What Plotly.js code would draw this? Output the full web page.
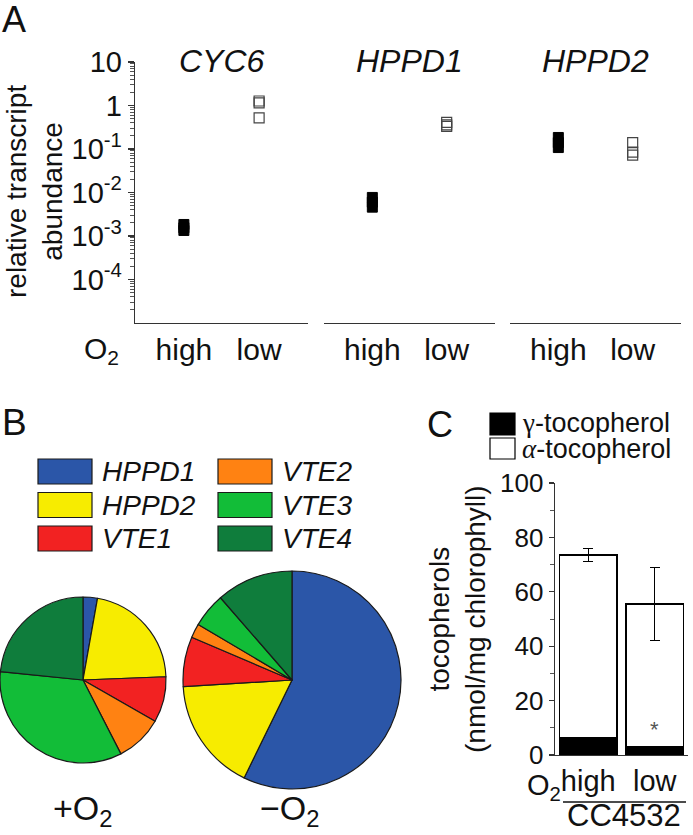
<!DOCTYPE html>
<html><head><meta charset="utf-8">
<script src="https://cdn.plot.ly/plotly-3.0.1.min.js"></script>
<style>html,body{margin:0;padding:0;background:#fff;} #chart{width:693px;height:835px;}</style>
</head><body><div id="chart"></div>
<script>
// ---------- Panel A: relative transcript abundance ----------
const genes = ['CYC6', 'HPPD1', 'HPPD2'];
const cyc6High = [1.34e-3, 1.55e-3, 1.84e-3];
const cyc6Low = [1.27, 1.15, 0.52];
const hppd1High = [4.6e-3, 6.0e-3, 7.7e-3];
const hppd1Low = [0.41, 0.36, 0.33];
const hppd2High = [0.108, 0.14, 0.184];
const hppd2Low = [0.14, 0.085, 0.072];
const logTickVals = [10, 1, 0.1, 0.01, 0.001, 0.0001];
const logTickText = ['10', '1', '10<sup>-1</sup>', '10<sup>-2</sup>', '10<sup>-3</sup>', '10<sup>-4</sup>'];

// ---------- Panel B: pie charts ----------
const pieGenes = ['HPPD1', 'HPPD2', 'VTE1', 'VTE2', 'VTE3', 'VTE4'];
const pieColors = ['#2b56a8', '#f7ec00', '#f22222', '#ff8212', '#12bd38', '#0f7d3c'];
const plusO2 = [2.8, 21.6, 8.9, 9.2, 34.2, 23.4];
const minusO2 = [57.3, 16.8, 7.4, 2.1, 5.1, 11.4];

// ---------- Panel C: tocopherols ----------
const barCats = ['high', 'low'];
const gammaToco = [6.2, 2.9];
const gammaErr = [0.5, 1.8];
const alphaToco = [67.3, 52.6];
const alphaErr = [2.3, 13.4];
const barTickVals = [0, 20, 40, 60, 80, 100];

const W = 693, H = 835;
const px = v => v / W;
const py = v => 1 - v / H;
const FONT = 'Liberation Sans, Arial, sans-serif';
const INK = '#1a1a1a';

const highSets = [cyc6High, hppd1High, hppd2High];
const lowSets = [cyc6Low, hppd1Low, hppd2Low];
const xNames = ['x', 'x2', 'x3'];

const traces = [];
genes.forEach((g, i) => {
  traces.push({
    type: 'scatter', mode: 'markers', xaxis: xNames[i], yaxis: 'y',
    x: highSets[i].map(() => 'high'), y: highSets[i],
    marker: {symbol: 'square', size: 10, color: '#000', line: {color: '#000', width: 1}},
    showlegend: false, hoverinfo: 'y'
  });
  traces.push({
    type: 'scatter', mode: 'markers', xaxis: xNames[i], yaxis: 'y',
    x: lowSets[i].map(() => 'low'), y: lowSets[i],
    marker: {symbol: 'square-open', size: 10, color: '#444', line: {color: '#444', width: 1.2}},
    showlegend: false, hoverinfo: 'y'
  });
});

// pies
traces.push({
  type: 'pie', values: plusO2, labels: pieGenes, sort: false, direction: 'clockwise', rotation: 0,
  marker: {colors: pieColors, line: {color: INK, width: 1.2}},
  textinfo: 'none', showlegend: false, hoverinfo: 'label+percent',
  domain: {x: [px(0), px(166)], y: [py(763), py(597)]}
});
traces.push({
  type: 'pie', values: minusO2, labels: pieGenes, sort: false, direction: 'clockwise', rotation: 0,
  marker: {colors: pieColors, line: {color: INK, width: 1.2}},
  textinfo: 'none', showlegend: false, hoverinfo: 'label+percent',
  domain: {x: [px(183), px(401)], y: [py(789), py(571)]}
});

// bars
traces.push({
  type: 'bar', x: barCats, y: gammaToco, xaxis: 'x4', yaxis: 'y4', name: 'γ-tocopherol',
  marker: {color: '#000', line: {color: '#000', width: 1.5}},
  error_y: {type: 'data', array: gammaErr, visible: true, color: '#000', thickness: 1, width: 5},
  showlegend: false
});
traces.push({
  type: 'bar', x: barCats, y: alphaToco, xaxis: 'x4', yaxis: 'y4', name: 'α-tocopherol',
  marker: {color: '#fff', line: {color: '#000', width: 1.5}},
  error_y: {type: 'data', array: alphaErr, visible: true, color: '#000', thickness: 1, width: 5},
  showlegend: false
});

// minor ticks for log axis
const minorLog = [];
for (let k = -5; k <= 0; k++) for (let m = 2; m <= 9; m++) minorLog.push(m * Math.pow(10, k));

const xCommon = {
  type: 'category', categoryorder: 'array', categoryarray: ['high', 'low'], range: [-0.65, 1.65],
  showline: true, linecolor: '#333', linewidth: 1.3, ticks: '', anchor: 'y',
  tickfont: {family: FONT, size: 30, color: '#111'}, showgrid: false, zeroline: false, fixedrange: true
};

const annotations = [];
const shapes = [];
const ann = (text, x, y, size, extra) => annotations.push(Object.assign({
  text, x: px(x), y: py(y), xref: 'paper', yref: 'paper', showarrow: false,
  xanchor: 'center', yanchor: 'middle', font: {family: FONT, size, color: '#111'}
}, extra || {}));

ann('A', 14, 20, 36);
ann('B', 14, 423, 37);
ann('C', 440, 424, 36);
ann('relative transcript<br>abundance', 35, 192, 28, {textangle: -90});
ann('O<sub>2</sub>', 82, 350, 30, {xanchor: 'left'});
genes.forEach((g, i) => {
  annotations.push({
    text: '<i>' + g + '</i>', xref: xNames[i] + ' domain', x: 0.5, yref: 'paper', y: py(61),
    showarrow: false, xanchor: 'center', yanchor: 'middle', font: {family: FONT, size: 32, color: '#111'}
  });
});

// Legend B (custom, large swatches)
pieGenes.forEach((g, i) => {
  const col = Math.floor(i / 3), row = i % 3;
  const bx = col === 0 ? 38 : 218;
  const cy = 471.5 + row * 33.5;
  shapes.push({type: 'rect', xref: 'paper', yref: 'paper', x0: px(bx), x1: px(bx + 54), y0: py(cy + 12.5), y1: py(cy - 12.5),
    fillcolor: pieColors[i], line: {color: INK, width: 1.2}});
  ann('<i>' + g + '</i>', bx + 62, cy, 28, {xanchor: 'left'});
});
ann('+O<sub>2</sub>', 83, 810, 34);
ann('\u2212O<sub>2</sub>', 290, 810, 34);

// Legend C
shapes.push({type: 'rect', xref: 'paper', yref: 'paper', x0: px(490), x1: px(515), y0: py(435), y1: py(413), fillcolor: '#000', line: {color: '#000', width: 1.2}});
shapes.push({type: 'rect', xref: 'paper', yref: 'paper', x0: px(490), x1: px(515), y0: py(459), y1: py(438), fillcolor: '#fff', line: {color: '#000', width: 1.2}});
ann('<span style="font-family:Liberation Serif,Times New Roman,serif">\u03b3</span>-tocopherol', 520, 423, 27, {xanchor: 'left'});
ann('<span style="font-family:Liberation Serif,Times New Roman,serif"><i>\u03b1</i></span>-tocopherol', 520, 449, 27, {xanchor: 'left'});
ann('tocopherols<br>(nmol/mg chlorophyll)', 457, 619, 28, {textangle: -90});
annotations.push({text: '*', xref: 'x4', x: 'low', yref: 'y4', y: 9.5, showarrow: false,
  font: {family: FONT, size: 22, color: '#555'}, xanchor: 'center', yanchor: 'middle'});
ann('O<sub>2</sub>', 525, 787, 29, {xanchor: 'left'});
shapes.push({type: 'line', xref: 'paper', yref: 'paper', x0: px(563), x1: px(686), y0: py(802), y1: py(802), line: {color: '#111', width: 1.5}});
ann('CC4532', 624, 835, 31, {yanchor: 'bottom'});

const layout = {
  width: W, height: H, margin: {l: 0, r: 0, t: 0, b: 0}, paper_bgcolor: '#fff', plot_bgcolor: 'rgba(0,0,0,0)',
  showlegend: false, barmode: 'stack', bargap: 0.14,
  font: {family: FONT, color: '#111'},
  xaxis: Object.assign({}, xCommon, {domain: [px(135), px(308)]}),
  xaxis2: Object.assign({}, xCommon, {domain: [px(324), px(495)]}),
  xaxis3: Object.assign({}, xCommon, {domain: [px(510), px(681)]}),
  yaxis: {
    type: 'log', range: [-5, 1], domain: [py(323), py(62)], anchor: 'x',
    showline: true, linecolor: '#333', linewidth: 1.3, showgrid: false, zeroline: false,
    ticks: 'outside', ticklen: 6, tickwidth: 1.2, tickcolor: '#333',
    tickmode: 'array', tickvals: logTickVals, ticktext: logTickText,
    tickfont: {family: FONT, size: 29, color: '#111'},
    minor: {ticks: 'outside', ticklen: 4, tickwidth: 1, tickcolor: '#555', tickmode: 'array', tickvals: minorLog, showgrid: false},
    fixedrange: true
  },
  xaxis4: {
    type: 'category', categoryorder: 'array', categoryarray: barCats, range: [-0.5, 1.5],
    domain: [px(555), px(688)], anchor: 'y4', showline: true, linecolor: '#333', linewidth: 1.3,
    ticks: '', tickfont: {family: FONT, size: 29, color: '#111'}, showgrid: false, zeroline: false, fixedrange: true
  },
  yaxis4: {
    range: [0, 100], domain: [py(755), py(483)], anchor: 'x4',
    showline: true, linecolor: '#333', linewidth: 1.3, showgrid: false, zeroline: false,
    ticks: 'outside', ticklen: 5, tickwidth: 1.2, tickcolor: '#333',
    tickmode: 'array', tickvals: barTickVals,
    tickfont: {family: FONT, size: 26, color: '#111'},
    minor: {ticks: 'outside', ticklen: 4, tickwidth: 1, tickcolor: '#555', dtick: 10, showgrid: false},
    fixedrange: true
  },
  annotations, shapes
};

Plotly.newPlot('chart', traces, layout, {displayModeBar: false, staticPlot: true});
</script>
</body></html>
